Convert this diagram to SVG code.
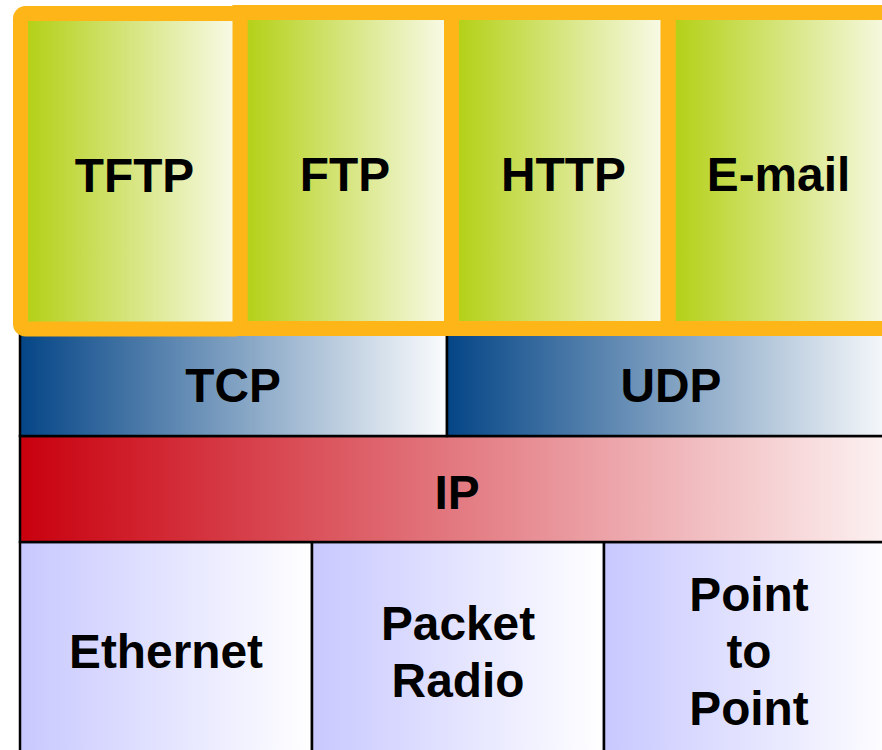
<svg xmlns="http://www.w3.org/2000/svg" width="882" height="750" viewBox="0 0 882 750">
<defs>
<linearGradient id="gGreen" x1="0" y1="0" x2="1" y2="0"><stop offset="0" stop-color="#b2cf10"/><stop offset="1" stop-color="#fafbec"/></linearGradient>
<linearGradient id="gBlue" x1="0" y1="0" x2="1" y2="0"><stop offset="0" stop-color="#044586"/><stop offset="1" stop-color="#fbfcfd"/></linearGradient>
<linearGradient id="gRed" x1="0" y1="0" x2="1" y2="0"><stop offset="0" stop-color="#c9000e"/><stop offset="1" stop-color="#fdf4f4"/></linearGradient>
<linearGradient id="gLav" x1="0" y1="0" x2="1" y2="0"><stop offset="0" stop-color="#c8c8ff"/><stop offset="1" stop-color="#ffffff"/></linearGradient>
</defs>
<style>
.lbl{font-family:"Liberation Sans",Arial,sans-serif;font-weight:bold;font-size:47.8px;fill:#000;text-anchor:middle}
.app{fill:url(#gGreen);stroke:#fdb517;stroke-width:15}
.tr{fill:url(#gBlue);stroke:#000;stroke-width:2.5}
.ip{fill:url(#gRed);stroke:#000;stroke-width:2.5}
.ln{fill:url(#gLav);stroke:#000;stroke-width:2.5}
</style>
<rect width="882" height="750" fill="#fff"/>
<g id="ethernet"><rect class="ln" x="20" y="542" width="292" height="230"/><text class="lbl" x="166" y="668">Ethernet</text></g>
<g id="packet-radio"><rect class="ln" x="312" y="542" width="292" height="230"/><text class="lbl" x="458" y="640">Packet</text><text class="lbl" x="458" y="697">Radio</text></g>
<g id="point-to-point"><rect class="ln" x="604" y="542" width="292" height="230"/><text class="lbl" x="749" y="611">Point</text><text class="lbl" x="749" y="668">to</text><text class="lbl" x="749" y="725">Point</text></g>
<g id="ip"><rect class="ip" x="20" y="436" width="876" height="106"/><text class="lbl" x="457" y="509">IP</text></g>
<g id="tcp"><rect class="tr" x="20" y="330" width="427" height="106"/><text class="lbl" x="233" y="402">TCP</text></g>
<g id="udp"><rect class="tr" x="447" y="330" width="449" height="106"/><text class="lbl" x="671" y="402">UDP</text></g>
<g id="email"><rect class="app" x="668" y="12.5" width="230" height="316"/><text class="lbl" x="778.5" y="191">E-mail</text></g>
<g id="http"><rect class="app" x="451.5" y="12.5" width="216.5" height="316"/><text class="lbl" x="563.5" y="191">HTTP</text></g>
<g id="ftp"><rect class="app" x="240" y="12.5" width="211.5" height="316"/><text class="lbl" x="345" y="191">FTP</text></g>
<g id="tftp"><rect class="app" x="20.5" y="13.5" width="219.5" height="315.5" rx="5"/><text class="lbl" x="134.5" y="192">TFTP</text></g>
<g id="connectors"></g>
</svg>
